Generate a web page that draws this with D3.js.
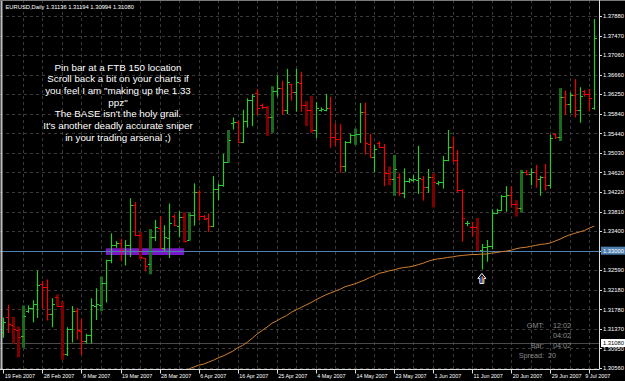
<!DOCTYPE html>
<html><head><meta charset="utf-8">
<script src="https://cdn.jsdelivr.net/npm/d3@7/dist/d3.min.js"></script>
<style>
html,body{margin:0;padding:0;background:#000;overflow:hidden;}
svg{display:block;}
text{font-family:"Liberation Sans",Arial,sans-serif;}
</style></head><body>
<svg id="chart" width="625" height="381"></svg>
<script>
// ---- data (EURUSD Daily, 19 Feb 2007 .. 10 Jul 2007) ----
const opens = [1.3131,1.3163,1.3145,1.3136,1.3122,1.3174,1.3181,1.3190,1.3231,1.3225,
1.3168,1.3204,1.3184,1.3086,1.3137,1.3174,1.3133,1.3113,1.3125,1.3185,
1.3188,1.3232,1.3280,1.3311,1.3315,1.3299,1.3312,1.3396,1.3332,1.3284,
1.3272,1.3328,1.3348,1.3306,1.3326,1.3372,1.3351,1.3369,1.3322,1.3374,
1.3423,1.3373,1.3368,1.3352,1.3428,1.3436,1.3484,1.3565,1.3568,1.3526,
1.3570,1.3613,1.3627,1.3603,1.3599,1.3579,1.3631,1.3638,1.3593,1.3646,
1.3629,1.3649,1.3603,1.3593,1.3551,1.3593,1.3593,1.3596,1.3537,1.3532,
1.3476,1.3527,1.3541,1.3542,1.3589,1.3522,1.3495,1.3523,1.3515,1.3461,
1.3450,1.3454,1.3419,1.3445,1.3447,1.3447,1.3450,1.3433,1.3453,1.3440,
1.3443,1.3488,1.3516,1.3488,1.3426,1.3357,1.3350,1.3349,1.3301,1.3308,
1.3310,1.3378,1.3385,1.3414,1.3416,1.3398,1.3388,1.3464,1.3459,1.3464,
1.3450,1.3454,1.3436,1.3543,1.3537,1.3620,1.3605,1.3624,1.3593,1.3631,
1.3625,1.3597];
const highs = [1.3161,1.3187,1.3162,1.3142,1.3186,1.3186,1.3197,1.3259,1.3237,1.3240,
1.3201,1.3209,1.3195,1.3141,1.3185,1.3181,1.3158,1.3127,1.3201,1.3222,
1.3246,1.3281,1.3336,1.3320,1.3325,1.3322,1.3409,1.3401,1.3339,1.3285,
1.3345,1.3364,1.3372,1.3353,1.3398,1.3375,1.3382,1.3380,1.3380,1.3440,
1.3426,1.3374,1.3377,1.3455,1.3440,1.3501,1.3551,1.3577,1.3570,1.3593,
1.3617,1.3626,1.3636,1.3606,1.3601,1.3642,1.3664,1.3653,1.3678,1.3647,
1.3678,1.3672,1.3611,1.3622,1.3609,1.3598,1.3626,1.3620,1.3565,1.3563,
1.3528,1.3543,1.3554,1.3607,1.3608,1.3543,1.3520,1.3527,1.3522,1.3475,
1.3499,1.3461,1.3471,1.3451,1.3457,1.3518,1.3455,1.3470,1.3461,1.3445,
1.3497,1.3551,1.3537,1.3509,1.3428,1.3362,1.3360,1.3368,1.3314,1.3322,
1.3386,1.3387,1.3416,1.3434,1.3434,1.3405,1.3468,1.3468,1.3471,1.3478,
1.3456,1.3480,1.3541,1.3544,1.3638,1.3633,1.3629,1.3657,1.3640,1.3634,
1.3636,1.3782];
const lows = [1.3119,1.3129,1.3107,1.3078,1.3098,1.3171,1.3151,1.3160,1.3179,1.3155,
1.3141,1.3183,1.3073,1.3081,1.3109,1.3115,1.3083,1.3107,1.3107,1.3156,
1.3174,1.3192,1.3274,1.3306,1.3278,1.3269,1.3287,1.3330,1.3282,1.3257,
1.3251,1.3320,1.3305,1.3299,1.3285,1.3351,1.3328,1.3317,1.3321,1.3352,
1.3362,1.3365,1.3339,1.3349,1.3405,1.3433,1.3483,1.3552,1.3524,1.3524,
1.3556,1.3559,1.3582,1.3594,1.3539,1.3545,1.3620,1.3582,1.3584,1.3612,
1.3589,1.3589,1.3559,1.3545,1.3534,1.3589,1.3590,1.3514,1.3518,1.3462,
1.3464,1.3523,1.3520,1.3524,1.3500,1.3493,1.3463,1.3513,1.3434,1.3436,
1.3414,1.3414,1.3409,1.3441,1.3443,1.3418,1.3404,1.3420,1.3390,1.3436,
1.3429,1.3486,1.3483,1.3421,1.3319,1.3351,1.3329,1.3299,1.3261,1.3277,
1.3303,1.3376,1.3382,1.3381,1.3390,1.3371,1.3379,1.3457,1.3436,1.3431,
1.3414,1.3425,1.3430,1.3532,1.3528,1.3582,1.3586,1.3577,1.3566,1.3620,
1.3590,1.3593];
const closes = [1.3151,1.3147,1.3138,1.3120,1.3164,1.3181,1.3190,1.3228,1.3225,1.3168,
1.3190,1.3184,1.3086,1.3137,1.3174,1.3135,1.3113,1.3125,1.3187,1.3189,
1.3232,1.3280,1.3311,1.3315,1.3301,1.3312,1.3396,1.3332,1.3287,1.3269,
1.3328,1.3349,1.3306,1.3328,1.3357,1.3353,1.3369,1.3321,1.3374,1.3423,
1.3372,1.3366,1.3352,1.3428,1.3436,1.3484,1.3530,1.3567,1.3526,1.3570,
1.3613,1.3622,1.3596,1.3598,1.3579,1.3631,1.3638,1.3593,1.3650,1.3629,
1.3650,1.3603,1.3593,1.3551,1.3596,1.3594,1.3596,1.3537,1.3532,1.3476,
1.3527,1.3541,1.3542,1.3589,1.3523,1.3495,1.3511,1.3515,1.3461,1.3450,
1.3470,1.3420,1.3445,1.3448,1.3450,1.3452,1.3433,1.3453,1.3443,1.3443,
1.3488,1.3516,1.3488,1.3426,1.3367,1.3358,1.3349,1.3300,1.3308,1.3310,
1.3378,1.3385,1.3414,1.3416,1.3398,1.3388,1.3464,1.3459,1.3464,1.3450,
1.3454,1.3436,1.3534,1.3537,1.3620,1.3605,1.3624,1.3593,1.3622,1.3625,
1.3618,1.3742];
// bars drawn in the darker, heavier style
const darkBars = [2,3,4,11,12,20,28,30,37,38,46,54,55,62,63,72,79,80,88,97,105,106,114];
// moving average (starts at bar maStart)
const maStart = 38;
const maValues = [1.3054,1.3058,1.3062,1.3064,1.3068,1.3072,1.3077,1.3081,1.3086,1.3091,
1.3098,1.3103,1.3110,1.3118,1.3127,1.3134,1.3141,1.3149,1.3154,1.3160,
1.3165,1.3172,1.3177,1.3182,1.3187,1.3192,1.3198,1.3203,1.3208,1.3212,
1.3216,1.3220,1.3225,1.3228,1.3231,1.3235,1.3239,1.3244,1.3248,1.3253,
1.3255,1.3258,1.3260,1.3263,1.3265,1.3266,1.3268,1.3271,1.3274,1.3278,
1.3281,1.3283,1.3284,1.3286,1.3287,1.3289,1.3290,1.3291,1.3292,1.3292,
1.3293,1.3293,1.3295,1.3296,1.3298,1.3299,1.3301,1.3304,1.3306,1.3307,
1.3309,1.3311,1.3313,1.3314,1.3316,1.3320,1.3324,1.3329,1.3333,1.3336,
1.3339,1.3342,1.3347,1.3351];
// price axis
const priceTickValues = [1.37880,1.37473,1.37067,1.36660,1.36253,1.35847,1.35440,1.35033,1.34627,1.34220,
1.33813,1.33407,1.33000,1.32593,1.32187,1.31780,1.31373,1.30967,1.30560];
const priceTickLabels = ["1.37880","1.37470","1.37060","1.36660","1.36250","1.35840","1.35440","1.35030","1.34620","1.34220",
"1.33810","1.33400","1.33000","1.32590","1.32180","1.31780","1.31370","1.30950","1.30560"];
// time axis
const dateTickBars = [0,8,16,24,32,40,48,56,64,72,80,88,96,104,112,120];
const dateTickLabels = ["19 Feb 2007","28 Feb 2007","9 Mar 2007","19 Mar 2007","28 Mar 2007","6 Apr 2007",
"16 Apr 2007","25 Apr 2007","4 May 2007","14 May 2007","23 May 2007","1 Jun 2007","11 Jun 2007",
"20 Jun 2007","29 Jun 2007","9 Jul 2007"];
// objects
const levelLine = 1.33000;
const bidPrice = 1.31080;
const zoneBars = [21, 37];
const zonePrices = [1.3291, 1.3305];
const pinBar = 98;
const headerText = "EURUSD,Daily  1.31136 1.31194 1.30994 1.31080";
const noteLines = ["Pin bar at a FTB 150 location","Scroll back a bit on your charts if",
"you feel I am \"making up the 1.33","ppz\"","The BASE isn't the holy grail.",
"It's another deadly accurate sniper","in your trading arsenal ;)"];
const infoLabels = ["GMT:","","Bar:","Spread:"];
const infoValues = ["12:02","04:02","04:02","20"];

// ---- drawing ----
const svg = d3.select("#chart");
const W = 625, H = 381, plotR = 599.5, plotB = 369.5;
const x = d3.scaleLinear().domain([0, 120]).range([3.3, 589.3]);
const y = d3.scaleLinear().domain([1.30560, 1.37880]).range([368, 16]);
const px = i => Math.round(x(i)) + 0.5;
const py = v => Math.round(y(v)) + 0.5;

svg.append("rect").attr("width", W).attr("height", H).attr("fill", "#000");
svg.append("defs").append("clipPath").attr("id", "plot")
  .append("rect").attr("x", 0).attr("y", 0).attr("width", plotR).attr("height", plotB);

const plot = svg.append("g").attr("clip-path", "url(#plot)");
const gridC = "#3a3a3a";
// grid
plot.selectAll("line.hg").data(priceTickValues).join("line")
  .attr("x1", 0).attr("x2", plotR).attr("y1", d => py(d)).attr("y2", d => py(d))
  .attr("stroke", gridC).attr("stroke-dasharray", "3,3");
const vgrid = d3.range(4, 122, 4);
plot.selectAll("line.vg").data(vgrid).join("line")
  .attr("x1", d => px(d)).attr("x2", d => px(d)).attr("y1", 0).attr("y2", plotB)
  .attr("stroke", gridC).attr("stroke-dasharray", "3,3");

// zone rectangle
plot.append("rect")
  .attr("x", x(zoneBars[0])).attr("width", x(zoneBars[1]) - x(zoneBars[0]))
  .attr("y", y(zonePrices[1])).attr("height", y(zonePrices[0]) - y(zonePrices[1]))
  .attr("fill", "#7a18c8");

// bid line
plot.append("line").attr("x1", 0).attr("x2", plotR)
  .attr("y1", py(bidPrice)).attr("y2", py(bidPrice)).attr("stroke", "#4a4a4a");

// bars
const idx = d3.range(opens.length);
const darkSet = new Set(darkBars);
const bars = plot.selectAll("g.bar").data(idx).join("g");
bars.each(function(i) {
  const g = d3.select(this);
  const up = closes[i] >= opens[i];
  const col = up ? "#2ec82e" : "#f00000";
  const xc = px(i);
  if (darkSet.has(i)) {
    g.append("rect").attr("x", xc - 1.5).attr("width", 3)
      .attr("y", y(highs[i])).attr("height", y(lows[i]) - y(highs[i]))
      .attr("fill", up ? "#1c6a1c" : "#7c0000");
  } else {
    g.append("line").attr("x1", xc).attr("x2", xc)
      .attr("y1", y(highs[i])).attr("y2", y(lows[i])).attr("stroke", col).attr("stroke-width", 1.2);
  }
  g.append("line").attr("x1", xc - 2.5).attr("x2", xc)
    .attr("y1", py(opens[i])).attr("y2", py(opens[i])).attr("stroke", col);
  g.append("line").attr("x1", xc).attr("x2", xc + 2.5)
    .attr("y1", py(closes[i])).attr("y2", py(closes[i])).attr("stroke", col);
});

// level line
plot.append("line").attr("x1", 0).attr("x2", plotR)
  .attr("y1", py(levelLine)).attr("y2", py(levelLine)).attr("stroke", "#4f7fae").attr("stroke-width", 1.2);

// moving average
plot.append("path").datum(maValues)
  .attr("d", d3.line().x((d, k) => x(maStart + k)).y(d => y(d)))
  .attr("fill", "none").attr("stroke", "#d08030").attr("stroke-width", 1);

// arrow under pin bar
const ax = x(pinBar), ay = y(lows[pinBar]) + 4;
plot.append("path")
  .attr("d", `M${ax},${ay} L${ax+4},${ay+5} L${ax+2},${ay+5} L${ax+2},${ay+10} L${ax-2},${ay+10} L${ax-2},${ay+5} L${ax-4},${ay+5} Z`)
  .attr("fill", "#000").attr("stroke", "#fff").attr("stroke-width", 1);
plot.append("line").attr("x1", ax - 0.7).attr("x2", ax - 0.7).attr("y1", ay + 3).attr("y2", ay + 9.5)
  .attr("stroke", "#3a6cff").attr("stroke-width", 1.2);
plot.append("line").attr("x1", ax + 0.8).attr("x2", ax + 0.8).attr("y1", ay + 3).attr("y2", ay + 9.5)
  .attr("stroke", "#e08a30").attr("stroke-width", 1.2);

// annotation
svg.append("g").selectAll("text").data(noteLines).join("text")
  .attr("x", 118).attr("y", (d, k) => 70.7 + k * 11.67)
  .attr("text-anchor", "middle").attr("fill", "#fff").attr("font-size", "9.8px").text(d => d);

// header
svg.append("text").attr("x", 5.5).attr("y", 8.5).attr("fill", "#fff")
  .attr("font-size", "5.8px").text(headerText);

// info block
const info = svg.append("g").attr("fill", "#8c8c8c").attr("font-size", "7.2px");
info.selectAll("text.l").data(infoLabels).join("text")
  .attr("x", 544).attr("y", (d, k) => 327.5 + k * 10.3).attr("text-anchor", "end").text(d => d);
info.selectAll("text.v").data(infoValues).join("text")
  .attr("x", (d, k) => k === 3 ? 548 : 553).attr("y", (d, k) => 327.5 + k * 10.3).text(d => d);

// borders / axes
svg.append("line").attr("x1", 1.5).attr("x2", 1.5).attr("y1", 0).attr("y2", plotB).attr("stroke", "#bdbdbd").attr("stroke-width", 2);
svg.append("line").attr("x1", 0).attr("x2", W).attr("y1", 0.5).attr("y2", 0.5).attr("stroke", "#7a7a7a");
svg.append("line").attr("x1", plotR).attr("x2", plotR).attr("y1", 0).attr("y2", plotB).attr("stroke", "#e0e0e0");
svg.append("line").attr("x1", 0).attr("x2", plotR).attr("y1", plotB).attr("y2", plotB).attr("stroke", "#e0e0e0");

// price labels
const ya = svg.append("g");
ya.selectAll("line").data(priceTickValues).join("line")
  .attr("x1", plotR).attr("x2", plotR + 2.5).attr("y1", d => py(d)).attr("y2", d => py(d)).attr("stroke", "#e0e0e0");
ya.selectAll("text").data(priceTickValues).join("text")
  .attr("x", 603).attr("y", d => y(d) + 2.2).attr("fill", "#fff").attr("font-size", "5.8px")
  .text((d, k) => priceTickLabels[k]);

// highlighted price boxes
function priceBox(v, bg, fg, label) {
  const yy = y(v);
  svg.append("rect").attr("x", 601).attr("y", yy - 4).attr("width", 24).attr("height", 8).attr("fill", bg);
  svg.append("text").attr("x", 603).attr("y", yy + 2.2).attr("fill", fg).attr("font-size", "5.8px").text(label);
}
priceBox(levelLine, "#4f7fae", "#fff", "1.33000");
priceBox(bidPrice, "#fff", "#000", "1.31080");

// date labels
const xa = svg.append("g");
xa.selectAll("line").data(dateTickBars).join("line")
  .attr("x1", d => px(d)).attr("x2", d => px(d)).attr("y1", plotB).attr("y2", plotB + 4).attr("stroke", "#e0e0e0");
xa.selectAll("text").data(dateTickBars).join("text")
  .attr("x", (d, k) => k === dateTickBars.length - 1 ? x(d) - 4 : x(d) + 1.5)
  .attr("y", 377.5).attr("fill", "#fff").attr("font-size", "5.4px")
  .text((d, k) => dateTickLabels[k]);
</script>
</body></html>
